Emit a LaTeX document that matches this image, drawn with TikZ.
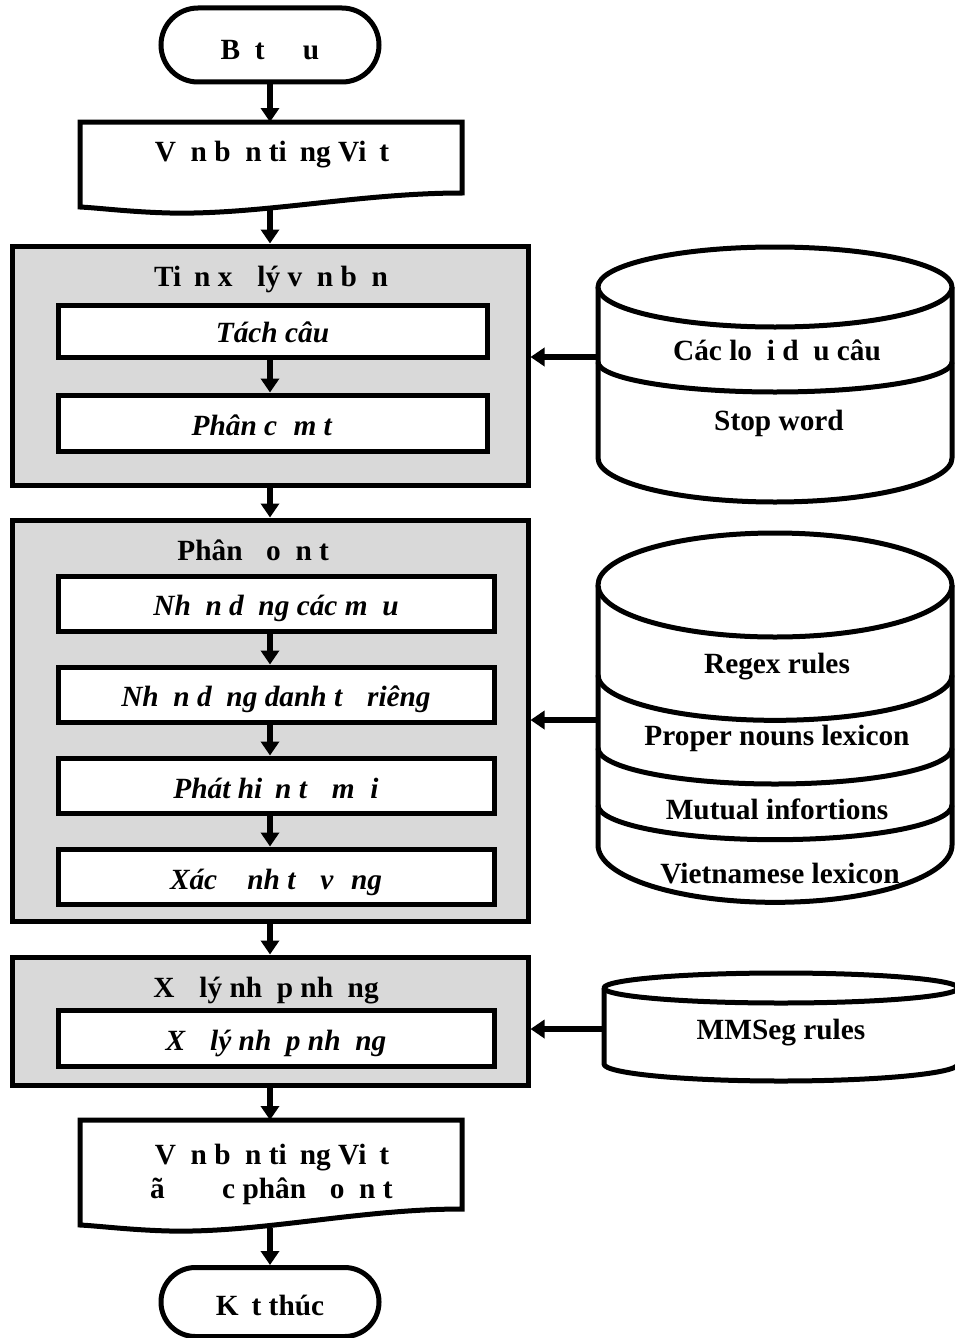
\documentclass[tikz,border=0pt]{standalone}
\usepackage{fontspec}
\setmainfont{Liberation Serif}
\usetikzlibrary{arrows.meta,calc}
\definecolor{boxgray}{RGB}{217,217,217}
\newcommand\mg[1]{\phantom{#1}}
\tikzset{
  txt/.style={inner sep=0pt, font=\fontsize{22}{26}\selectfont\bfseries},
  itxt/.style={inner sep=0pt, font=\fontsize{22}{26}\selectfont\bfseries\itshape},
  outl/.style={line width=3.75pt, line join=miter},
  graybox/.style={draw, outl, fill=boxgray, rectangle, inner sep=0pt},
  innerbox/.style={draw, outl, fill=white, rectangle, inner sep=0pt},
  term/.style={draw, outl, fill=white, rectangle, minimum width=163.5pt, inner sep=0pt},
  arr/.style={line width=4.5pt, -{Triangle[width=13.5pt,length=10.5pt]}},
  cyl/.style={outl, line join=round, fill=white},
}
\begin{document}
\begin{tikzpicture}[x=0.75pt,y=-0.75pt]
\useasboundingbox (0,0) rectangle (954,1338);
\coordinate (axis) at (270,0);

% start / end terminals
\node[term, minimum height=55.5pt, rounded corners=27.75pt] (start) at (270,45) {};
\node[txt] (startt) at (270,49) {B\mg{ắ}t \mg{đầ}u};
\node[term, minimum height=51.75pt, rounded corners=25.8pt] (end) at (270,1302) {};
\node[txt] (endt) at (270,1305) {K\mg{ế}t thúc};

% document 1
\draw[outl, fill=white] (80,122) -- (462,122) -- (462,193)
  .. controls (360,193) and (260,215) .. (170,213)
  .. controls (130,212) and (100,208) .. (80,207) -- cycle;
\node[txt] (doc1) at (272,154) {V\mg{ă}n b\mg{ả}n ti\mg{ế}ng Vi\mg{ệ}t};
\coordinate (d1t) at (270,122);
\coordinate (d1b) at (270,209);

% document 2
\draw[outl, fill=white] (80,1120) -- (462,1120) -- (462,1209)
  .. controls (360,1209) and (260,1233) .. (170,1231)
  .. controls (130,1230) and (100,1226) .. (80,1225) -- cycle;
\node[txt, align=center] (doc2) at (272,1174) {V\mg{ă}n b\mg{ả}n ti\mg{ế}ng Vi\mg{ệ}t\\ \mg{đ}ã \mg{đượ}c phân \mg{đ}o\mg{ạ}n t\mg{ừ}};
\coordinate (d2t) at (270,1120);
\coordinate (d2b) at (270,1228);

% gray group boxes
\node[graybox, minimum width=387pt, minimum height=179.25pt] (g1) at (270,365.5) {};
\node[graybox, minimum width=387pt, minimum height=300.75pt] (g2) at (270,720.5) {};
\node[graybox, minimum width=387pt, minimum height=96pt] (g3) at (270,1021) {};

\node[txt] (g1t) at (271,279) {Ti\mg{ề}n x\mg{ử} lý v\mg{ă}n b\mg{ả}n};
\node[txt] (g2t) at (262,553) {Phân \mg{đ}o\mg{ạ}n t\mg{ừ}};
\node[txt] (g3t) at (266,990) {X\mg{ử} lý nh\mg{ậ}p nh\mg{ằ}ng};

% inner boxes
\node[innerbox, minimum width=321.75pt, minimum height=39pt] (a1) at (272.5,331) {};
\node[innerbox, minimum width=321.75pt, minimum height=42pt] (a2) at (272.5,423) {};
\node[innerbox, minimum width=327pt, minimum height=41.25pt] (b1) at (276,604) {};
\node[innerbox, minimum width=327pt, minimum height=41.25pt] (b2) at (276,694.5) {};
\node[innerbox, minimum width=327pt, minimum height=41.25pt] (b3) at (276,785.5) {};
\node[innerbox, minimum width=327pt, minimum height=41.25pt] (b4) at (276,876.5) {};
\node[innerbox, minimum width=327pt, minimum height=42pt] (c1) at (276,1038) {};

\node[itxt] (a1t) at ($(a1.center)+(0,1)$) {Tách câu};
\node[itxt] (a2t) at ($(a2.center)+(-2,5)$) {Phân c\mg{ụ}m t\mg{ừ}};
\node[itxt] (b1t) at ($(b1.center)+(0,4)$) {Nh\mg{ậ}n d\mg{ạ}ng các m\mg{ẫ}u};
\node[itxt] (b2t) at ($(b2.center)+(0,5)$) {Nh\mg{ậ}n d\mg{ạ}ng danh t\mg{ừ} riêng};
\node[itxt] (b3t) at ($(b3.center)+(0,6)$) {Phát hi\mg{ệ}n t\mg{ừ} m\mg{ớ}i};
\node[itxt] (b4t) at ($(b4.center)+(0,6)$) {Xác \mg{đị}nh t\mg{ừ} v\mg{ự}ng};
\node[itxt] (c1t) at ($(c1.center)+(0,5)$) {X\mg{ử} lý nh\mg{ậ}p nh\mg{ằ}ng};

% cylinder 1
\draw[cyl] (598,287) -- (598,458) arc[start angle=180, end angle=360, x radius=132.75pt, y radius=33pt] -- (952,287);
\draw[cyl] (775,287) ellipse [x radius=132.75pt, y radius=30pt];
\draw[cyl, fill=none] (598,362) arc[start angle=180, end angle=360, x radius=132.75pt, y radius=22.5pt];
\node[txt] (k1a) at (777,353) {Các lo\mg{ạ}i d\mg{ấ}u câu};
\node[txt] (k1b) at (779,423) {Stop word};
\coordinate (cy1) at (598,357);

% cylinder 2
\draw[cyl] (598,585) -- (598,845) arc[start angle=180, end angle=360, x radius=132.75pt, y radius=43pt] -- (952,585);
\draw[cyl] (775,585) ellipse [x radius=132.75pt, y radius=39pt];
\draw[cyl, fill=none] (598,675) arc[start angle=180, end angle=360, x radius=132.75pt, y radius=34pt];
\draw[cyl, fill=none] (598,748) arc[start angle=180, end angle=360, x radius=132.75pt, y radius=27pt];
\draw[cyl, fill=none] (598,805) arc[start angle=180, end angle=360, x radius=132.75pt, y radius=26pt];
\node[txt] (k2a) at (777,667) {Regex rules};
\node[txt] (k2b) at (777,738) {Proper nouns lexicon};
\node[txt] (k2c) at (777,809) {Mutual infortions};
\node[txt] (k2d) at (780,874) {Vietnamese lexicon};
\coordinate (cy2) at (598,720);

% cylinder 3
\draw[cyl] (604,988) -- (604,1064) arc[start angle=180, end angle=360, x radius=132.75pt, y radius=12.75pt] -- (958,988);
\draw[cyl] (781,988) ellipse [x radius=132.75pt, y radius=11.25pt];
\node[txt] (k3a) at (781,1033) {MMSeg rules};
\coordinate (cy3) at (604,1029);

% main flow arrows
\draw[arr] (start.south) -- (d1t);
\draw[arr] (d1b) -- (g1.north -| axis);
\draw[arr] (a1.south -| axis) -- (a2.north -| axis);
\draw[arr] (g1.south -| axis) -- (g2.north -| axis);
\draw[arr] (b1.south -| axis) -- (b2.north -| axis);
\draw[arr] (b2.south -| axis) -- (b3.north -| axis);
\draw[arr] (b3.south -| axis) -- (b4.north -| axis);
\draw[arr] (g2.south -| axis) -- (g3.north -| axis);
\draw[arr] (g3.south -| axis) -- (d2t);
\draw[arr] (d2b) -- (end.north);

% resource arrows
\draw[arr] (cy1) -- (cy1 -| g1.east);
\draw[arr] (cy2) -- (cy2 -| g2.east);
\draw[arr] (cy3) -- (cy3 -| g3.east);
\end{tikzpicture}
\end{document}
